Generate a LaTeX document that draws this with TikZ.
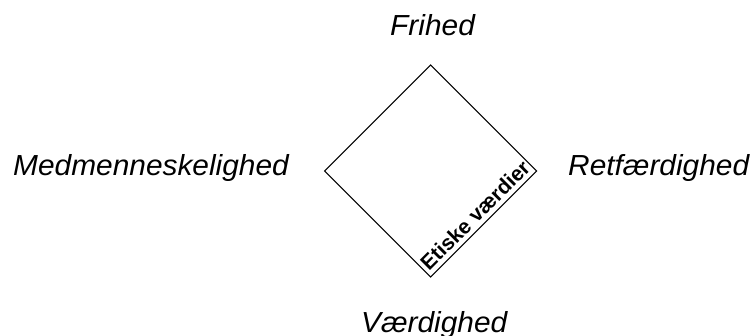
\documentclass[tikz,border=0pt]{standalone}
\usepackage{fontspec}
\setmainfont{Liberation Sans}
\newfontfamily\widesans[FakeStretch=1.03]{Liberation Sans}
\usetikzlibrary{calc}
\begin{document}
\begin{tikzpicture}[x=1pt,y=1pt,
  value/.style={font=\widesans\fontsize{29}{34}\selectfont\itshape, inner sep=0pt, anchor=base west},
  diamondline/.style={draw=black, line width=1.1pt, line join=miter},
  tag/.style={font=\fontsize{21}{25}\selectfont\bfseries, inner sep=0pt, rotate=45, anchor=base}
]
\useasboundingbox (0,0) rectangle (754,335);
\coordinate (T) at (430.7,270);
\coordinate (L) at (324.7,164);
\coordinate (B) at (430.7,58);
\coordinate (R) at (536.7,164);
\draw[diamondline] (T) -- (R) -- (B) -- (L) -- cycle;
\node[tag] (lab) at ($ (B)!0.5!(R) + (-3.5,3.5) $) {Etiske værdier};
\node[value] (fri) at (390,299) {Frihed};
\node[value] (med) at (13,160) {Medmenneskelighed};
\node[value] (ret) at (568,160) {Retfærdighed};
\node[value] (vaer) at (361,3) {Værdighed};
\end{tikzpicture}
\end{document}
